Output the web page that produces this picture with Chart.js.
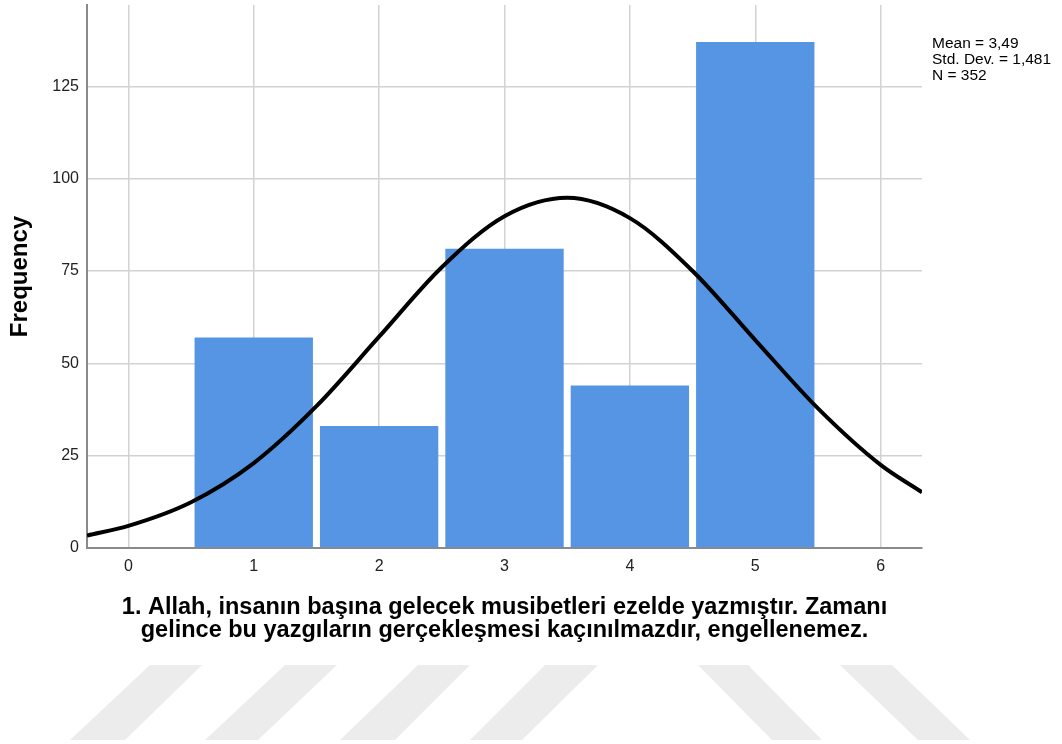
<!DOCTYPE html>
<html>
<head>
<meta charset="utf-8">
<script src="https://cdn.jsdelivr.net/npm/chart.js@4/dist/chart.umd.min.js"></script>
<style>
  body { margin: 0; background: #fff; }
  #wrap { position: relative; width: 1062px; height: 744px; }
  #wm { position: absolute; left: 0; top: 0; }
  #hist { position: absolute; left: 0; top: 0; }
</style>
</head>
<body>
<div id="wrap">
  <svg id="wm" width="1062" height="744">
    <g fill="#ececec">
      <polygon points="150,665 202,665 125,740 70,740"/>
      <polygon points="285,665 337,665 258,740 205,740"/>
      <polygon points="418,665 470,665 395,740 340,740"/>
      <polygon points="545,665 598,665 522,740 470,740"/>
      <polygon points="698,665 748,665 822,740 772,740"/>
      <polygon points="840,665 892,665 970,740 918,740"/>
    </g>
  </svg>
  <canvas id="hist" width="1062" height="744"></canvas>
</div>
<script>
// histogram bins (response 1..5) and frequencies
var bins = [1, 2, 3, 4, 5]
var freq = [57, 33, 81, 44, 137]

// normal curve
var curveX = [-0.33, 0, 0.5, 1, 1.5, 2, 2.5, 3, 3.5, 4, 4.5, 5, 5.5, 6, 6.33]
var curveY = [3.4, 6, 12.4, 23, 38.4, 57.2, 76, 89.8, 94.8, 89.3, 75, 56.3, 37.8, 22.5, 15.1]

var statLines = ['Mean = 3,49', 'Std. Dev. = 1,481', 'N = 352']

var xTitle = ['1. Allah, insanın başına gelecek musibetleri ezelde yazmıştır. Zamanı',
              'gelince bu yazgıların gerçekleşmesi kaçınılmazdır, engellenemez.']

function pairs(xs, ys) {
    return xs.map((x, i) => ({ x: x, y: ys[i] }));
}

const statsText = {
    id: 'statsText',
    afterDraw(chart) {
        const ctx = chart.ctx;
        ctx.save();
        ctx.fillStyle = '#000';
        ctx.font = '15.5px "Liberation Sans", Arial, sans-serif';
        ctx.textBaseline = 'middle';
        statLines.forEach((t, i) => ctx.fillText(t, 932, 44 + i * 16));
        ctx.restore();
    }
};

var ctx = document.getElementById('hist').getContext('2d');
var histChart = new Chart(ctx, {
    type: 'bar',
    data: {
        datasets: [{
            type: 'line',
            data: pairs(curveX, curveY),
            borderColor: '#000',
            borderWidth: 4,
            pointRadius: 0,
            cubicInterpolationMode: 'monotone',
            order: 1
        }, {
            data: pairs(bins, freq),
            backgroundColor: 'rgb(85, 149, 227)',
            borderWidth: 0,
            barPercentage: 1,
            categoryPercentage: 0.944,
            order: 2
        }]
    },
    options: {
        responsive: false,
        animation: false,
        events: [],
        layout: { padding: { top: 5, right: 140, bottom: 0, left: 0 } },
        scales: {
            x: {
                type: 'linear',
                min: -0.33,
                max: 6.33,
                offset: false,
                grid: { offset: false, color: '#d2d2d2', lineWidth: 1.5, drawTicks: false },
                border: { color: '#8a8a8a', width: 2 },
                ticks: {
                    stepSize: 1,
                    includeBounds: false,
                    padding: 9,
                    color: '#222',
                    font: { family: '"Liberation Sans", Arial', size: 16 }
                },
                title: {
                    display: true,
                    text: xTitle,
                    color: '#000',
                    font: { family: '"Liberation Sans", Arial', size: 23.5, weight: 'bold', lineHeight: '23px' },
                    padding: { top: 0, bottom: 101.5 }
                },
                afterFit: (scale) => {
                    scale.height = 196;
                    scale.paddingLeft = 0;
                    scale.paddingRight = 0;
                }
            },
            y: {
                min: 0,
                max: 147,
                grid: { color: '#d2d2d2', lineWidth: 1.5, drawTicks: false },
                border: { color: '#8a8a8a', width: 2 },
                ticks: {
                    stepSize: 25,
                    includeBounds: false,
                    padding: 8,
                    color: '#222',
                    font: { family: '"Liberation Sans", Arial', size: 16 }
                },
                title: {
                    display: true,
                    text: 'Frequency',
                    color: '#000',
                    font: { family: '"Liberation Sans", Arial', size: 24, weight: 'bold' },
                    padding: { top: 6, bottom: 0 }
                },
                afterFit: (scale) => {
                    scale.width = 87;
                    scale.paddingTop = 0;
                    scale.paddingBottom = 0;
                }
            }
        },
        plugins: {
            legend: { display: false },
            tooltip: { enabled: false }
        }
    },
    plugins: [statsText]
});
</script>
</body>
</html>
